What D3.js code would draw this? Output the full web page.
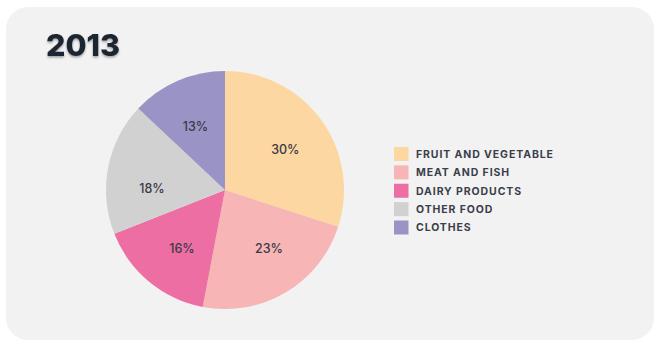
<!DOCTYPE html>
<html><head><meta charset="utf-8">
<script src="https://cdn.jsdelivr.net/npm/d3@7"></script>
<style>
html,body{margin:0;padding:0;background:#fff;}
svg{display:block;}
</style></head>
<body>
<script>
const categories = ["FRUIT AND VEGETABLE","MEAT AND FISH","DAIRY PRODUCTS","OTHER FOOD","CLOTHES"];
const values = [30, 23, 16, 18, 13];
const colors = ["#fcd7a2","#f7b5b6","#ec6ea2","#d1d1d1","#9a94c6"];
const title = "2013";

const W = 665, H = 349;
const svg = d3.select("body").append("svg").attr("width", W).attr("height", H);
const defs = svg.append("defs");
const f = defs.append("filter").attr("id","ts").attr("x","-20%").attr("y","-20%").attr("width","140%").attr("height","160%");
f.append("feDropShadow").attr("dx",0).attr("dy",1.5).attr("stdDeviation",1.2).attr("flood-color","#000").attr("flood-opacity",0.35);

svg.append("rect").attr("x",6).attr("y",7).attr("width",648).attr("height",333).attr("rx",22).attr("fill","#f2f2f2");

svg.append("text").attr("x",46).attr("y",55.5).text(title)
  .attr("font-family","Inter, sans-serif").attr("font-weight",800).attr("font-size",30.5)
  .attr("fill","#1f2630").attr("filter","url(#ts)");

const cx = 225, cy = 190, r = 119;
const pie = d3.pie().sort(null).value(d => d)(values);
const arc = d3.arc().innerRadius(0).outerRadius(r);
const lab = d3.arc().innerRadius(r*0.61).outerRadius(r*0.61);
// small label nudges (relative to centroid) to mimic the reference layout
const nudge = [[1.6,2],[7,-4],[3.3,2.4],[-1.7,12.3],[-0.7,2.8]];
const g = svg.append("g").attr("transform",`translate(${cx},${cy})`);
g.selectAll("path").data(pie).join("path").attr("d",arc).attr("fill",(d,i)=>colors[i]);
g.selectAll("text").data(pie).join("text")
  .attr("transform", (d,i) => { const c = lab.centroid(d); return `translate(${c[0]+nudge[i][0]},${c[1]+nudge[i][1]})`; })
  .attr("text-anchor","middle").attr("dy","0.36em")
  .attr("font-family","Inter, sans-serif").attr("font-size",12.5).attr("font-weight",500)
  .attr("fill","#3a3a48").text(d => d.data + "%");

const y = d3.scalePoint().domain(categories).range([154, 227.5]);
const lg = svg.append("g");
categories.forEach((c,i)=>{
  lg.append("rect").attr("x",394).attr("y",y(c)-7).attr("width",14.5).attr("height",14).attr("fill",colors[i]);
  lg.append("text").attr("x",416).attr("y",y(c)).attr("dy","0.36em").text(c)
    .attr("font-family","Inter, sans-serif").attr("font-weight",700).attr("font-size",10.5)
    .attr("letter-spacing","0.9px").attr("fill","#3a3f4a");
});
</script>
</body></html>
